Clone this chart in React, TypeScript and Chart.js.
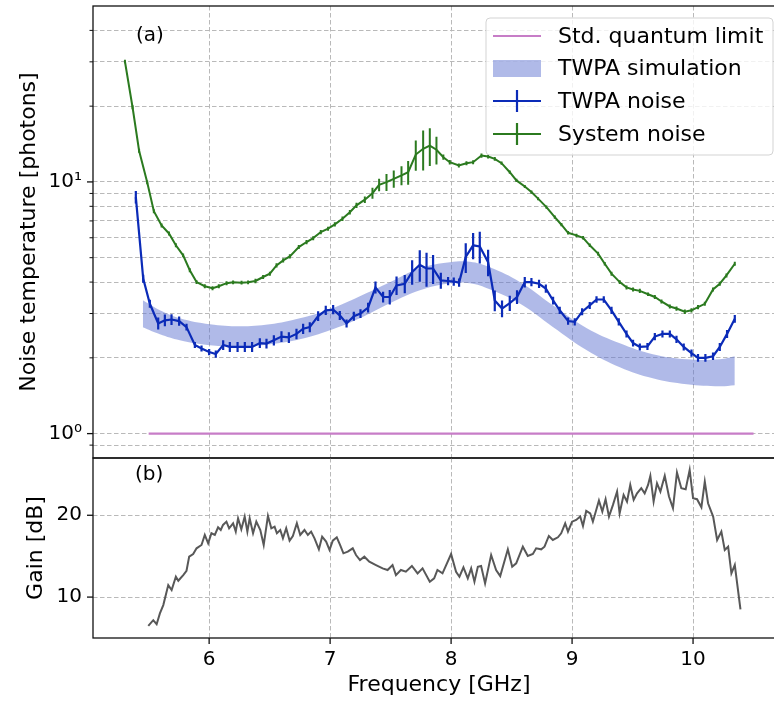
import React, { useEffect, useRef } from 'react';
import { Chart, registerables } from 'chart.js';

Chart.register(...registerables);

const FONT = "'DejaVu Sans', sans-serif";

// ---------- data ----------
const sqlFreq = [5.5, 10.5];
const sqlValue = [1, 1];

const simFreq = [5.452, 5.593, 5.758, 6.006, 6.254, 6.502, 6.75, 6.998, 7.246, 7.494, 7.742, 7.99, 8.155, 8.32, 8.568, 8.841, 9.122, 9.395, 9.667, 9.948, 10.221, 10.345];
const simUpper = [3.385, 3.09, 2.872, 2.718, 2.669, 2.718, 2.872, 3.118, 3.512, 3.991, 4.536, 4.793, 4.815, 4.578, 4.003, 3.234, 2.62, 2.284, 2.066, 1.973, 1.973, 2.028];
const simLower = [2.644, 2.48, 2.348, 2.243, 2.222, 2.263, 2.37, 2.573, 2.872, 3.294, 3.71, 3.955, 3.955, 3.744, 3.285, 2.652, 2.143, 1.834, 1.658, 1.57, 1.541, 1.555];

const twpaFreq = [5.394, 5.455, 5.51, 5.579, 5.634, 5.689, 5.752, 5.813, 5.882, 5.937, 6.0, 6.055, 6.116, 6.171, 6.235, 6.295, 6.355, 6.419, 6.474, 6.535, 6.598, 6.659, 6.722, 6.777, 6.832, 6.901, 6.964, 7.025, 7.08, 7.136, 7.196, 7.251, 7.314, 7.375, 7.438, 7.493, 7.549, 7.617, 7.678, 7.741, 7.797, 7.851, 7.915, 7.975, 8.022, 8.066, 8.121, 8.182, 8.237, 8.306, 8.361, 8.421, 8.485, 8.545, 8.609, 8.664, 8.727, 8.783, 8.843, 8.898, 8.967, 9.022, 9.083, 9.146, 9.202, 9.262, 9.326, 9.386, 9.45, 9.504, 9.56, 9.623, 9.684, 9.747, 9.808, 9.863, 9.923, 9.987, 10.041, 10.102, 10.165, 10.221, 10.281, 10.345];
const twpaNoise = [8.7, 4.13, 3.28, 2.74, 2.82, 2.84, 2.8, 2.65, 2.25, 2.18, 2.11, 2.07, 2.25, 2.21, 2.21, 2.21, 2.21, 2.29, 2.28, 2.35, 2.43, 2.41, 2.49, 2.61, 2.65, 2.93, 3.09, 3.11, 2.95, 2.74, 2.93, 3.0, 3.17, 3.81, 3.49, 3.49, 3.88, 3.94, 4.39, 4.68, 4.53, 4.53, 4.06, 4.04, 4.02, 3.98, 5.03, 5.6, 5.54, 4.8, 3.38, 3.14, 3.3, 3.49, 4.0, 4.0, 3.94, 3.77, 3.38, 3.09, 2.8, 2.78, 3.05, 3.23, 3.41, 3.41, 3.09, 2.78, 2.49, 2.29, 2.21, 2.22, 2.43, 2.49, 2.49, 2.37, 2.21, 2.09, 2.0, 2.0, 2.03, 2.21, 2.49, 2.86];
const twpaErr = [0.5, 0.15, 0.12, 0.15, 0.15, 0.14, 0.12, 0.08, 0.06, 0.06, 0.06, 0.07, 0.1, 0.1, 0.1, 0.1, 0.1, 0.1, 0.1, 0.11, 0.12, 0.12, 0.12, 0.12, 0.12, 0.13, 0.13, 0.13, 0.12, 0.1, 0.12, 0.12, 0.14, 0.21, 0.17, 0.23, 0.33, 0.33, 0.49, 0.67, 0.7, 0.6, 0.3, 0.15, 0.15, 0.15, 0.68, 0.67, 0.8, 0.58, 0.32, 0.24, 0.23, 0.22, 0.19, 0.15, 0.15, 0.14, 0.12, 0.1, 0.09, 0.09, 0.1, 0.1, 0.1, 0.1, 0.1, 0.09, 0.08, 0.07, 0.07, 0.07, 0.08, 0.08, 0.08, 0.08, 0.07, 0.07, 0.07, 0.07, 0.07, 0.08, 0.09, 0.1];

const sysFreq = [5.304, 5.367, 5.421, 5.488, 5.543, 5.607, 5.668, 5.725, 5.785, 5.84, 5.896, 5.964, 6.028, 6.08, 6.144, 6.198, 6.268, 6.322, 6.383, 6.446, 6.502, 6.557, 6.612, 6.667, 6.741, 6.805, 6.86, 6.923, 6.983, 7.039, 7.102, 7.163, 7.218, 7.287, 7.35, 7.405, 7.466, 7.526, 7.59, 7.645, 7.708, 7.769, 7.824, 7.879, 7.936, 7.989, 8.064, 8.127, 8.182, 8.251, 8.306, 8.361, 8.417, 8.485, 8.54, 8.609, 8.664, 8.719, 8.788, 8.857, 8.912, 8.967, 9.036, 9.091, 9.146, 9.215, 9.27, 9.326, 9.394, 9.45, 9.504, 9.56, 9.628, 9.684, 9.739, 9.808, 9.863, 9.932, 9.987, 10.041, 10.097, 10.165, 10.221, 10.276, 10.345];
const sysNoise = [30.1, 19.8, 13.3, 9.96, 7.65, 6.71, 6.24, 5.6, 5.11, 4.46, 4.0, 3.85, 3.78, 3.85, 3.96, 3.99, 3.98, 3.99, 4.04, 4.19, 4.32, 4.66, 4.88, 5.06, 5.51, 5.77, 5.98, 6.32, 6.52, 6.78, 7.14, 7.58, 8.07, 8.5, 9.02, 9.74, 9.98, 10.29, 10.61, 10.93, 12.85, 13.54, 13.95, 13.42, 12.54, 11.98, 11.62, 11.87, 11.98, 12.73, 12.61, 12.35, 11.87, 10.93, 10.14, 9.59, 9.11, 8.58, 7.94, 7.25, 6.76, 6.28, 6.13, 6.0, 5.6, 5.19, 4.73, 4.32, 4.0, 3.81, 3.74, 3.69, 3.58, 3.49, 3.35, 3.2, 3.14, 3.05, 3.09, 3.18, 3.28, 3.74, 3.94, 4.25, 4.73];
const sysErr = [0.5, 0.35, 0.25, 0.18, 0.14, 0.12, 0.11, 0.1, 0.09, 0.08, 0.07, 0.07, 0.07, 0.07, 0.07, 0.07, 0.07, 0.07, 0.08, 0.08, 0.08, 0.09, 0.09, 0.1, 0.1, 0.11, 0.11, 0.12, 0.12, 0.13, 0.14, 0.15, 0.2, 0.25, 0.45, 0.55, 0.77, 0.8, 0.92, 1.18, 1.77, 2.45, 2.38, 1.7, 0.3, 0.25, 0.22, 0.22, 0.22, 0.25, 0.22, 0.2, 0.18, 0.16, 0.15, 0.14, 0.13, 0.12, 0.12, 0.11, 0.1, 0.1, 0.1, 0.1, 0.09, 0.09, 0.08, 0.08, 0.07, 0.07, 0.07, 0.07, 0.06, 0.06, 0.06, 0.06, 0.06, 0.06, 0.06, 0.06, 0.06, 0.07, 0.07, 0.08, 0.09];

const gainFreq = [5.497, 5.538, 5.566, 5.593, 5.621, 5.662, 5.69, 5.725, 5.745, 5.786, 5.813, 5.835, 5.868, 5.896, 5.937, 5.964, 5.992, 6.019, 6.047, 6.074, 6.096, 6.115, 6.143, 6.165, 6.198, 6.22, 6.239, 6.266, 6.294, 6.316, 6.335, 6.363, 6.39, 6.423, 6.451, 6.486, 6.514, 6.541, 6.56, 6.588, 6.61, 6.637, 6.665, 6.692, 6.725, 6.753, 6.788, 6.816, 6.843, 6.871, 6.907, 6.934, 6.967, 6.995, 7.022, 7.055, 7.082, 7.11, 7.146, 7.187, 7.214, 7.247, 7.283, 7.324, 7.379, 7.434, 7.475, 7.516, 7.544, 7.585, 7.626, 7.676, 7.723, 7.764, 7.824, 7.86, 7.887, 7.929, 8.0, 8.041, 8.069, 8.102, 8.138, 8.166, 8.193, 8.221, 8.248, 8.281, 8.331, 8.372, 8.406, 8.469, 8.505, 8.538, 8.593, 8.634, 8.676, 8.703, 8.745, 8.772, 8.808, 8.841, 8.883, 8.91, 8.943, 8.966, 9.0, 9.034, 9.067, 9.09, 9.117, 9.15, 9.172, 9.222, 9.25, 9.277, 9.305, 9.338, 9.372, 9.393, 9.426, 9.454, 9.481, 9.509, 9.537, 9.572, 9.6, 9.628, 9.647, 9.674, 9.702, 9.73, 9.766, 9.801, 9.834, 9.867, 9.903, 9.939, 9.972, 10.0, 10.033, 10.069, 10.097, 10.124, 10.166, 10.199, 10.234, 10.262, 10.29, 10.317, 10.345, 10.392];
const gainDb = [6.49, 7.18, 6.69, 8.0, 9.02, 11.47, 10.86, 12.49, 12.0, 12.69, 13.22, 14.94, 15.27, 15.96, 16.37, 17.59, 16.57, 17.8, 17.59, 18.53, 18.2, 18.82, 19.22, 18.41, 19.02, 18.0, 19.63, 18.29, 19.84, 18.0, 19.63, 17.8, 19.22, 18.2, 16.37, 19.92, 18.41, 18.61, 17.8, 18.2, 17.18, 18.41, 16.9, 17.47, 19.02, 17.59, 18.2, 17.59, 18.0, 17.18, 15.84, 17.39, 16.78, 15.76, 16.9, 17.31, 16.37, 15.35, 15.55, 15.96, 15.14, 14.53, 14.94, 14.33, 13.92, 13.51, 13.31, 13.92, 12.69, 13.31, 13.1, 13.8, 12.9, 13.51, 11.88, 12.29, 13.31, 12.9, 15.27, 13.1, 12.49, 13.63, 12.29, 13.51, 11.88, 13.71, 13.8, 11.67, 15.14, 13.31, 12.57, 15.84, 13.71, 14.12, 16.16, 15.02, 15.27, 15.96, 15.84, 16.16, 17.47, 16.98, 17.31, 17.8, 19.02, 18.0, 19.22, 19.43, 19.84, 18.69, 20.53, 20.24, 19.22, 21.8, 20.45, 21.96, 19.84, 21.27, 22.9, 20.24, 22.49, 21.67, 23.71, 21.88, 22.69, 23.31, 22.69, 23.71, 24.82, 21.67, 23.92, 22.9, 24.82, 22.29, 20.86, 25.22, 23.31, 23.18, 25.55, 22.08, 21.96, 20.98, 24.12, 21.47, 19.84, 16.98, 18.0, 15.76, 16.16, 12.9, 13.92, 8.49];

const X_MIN = 5.04;
const X_MAX = 10.76;
const X_TICKS = [6, 7, 8, 9, 10];
const NOISE_MIN = 0.8;
const NOISE_MAX = 50;
const NOISE_TICKS = [0.9, 1, 2, 3, 4, 5, 6, 7, 8, 9, 10, 20, 30, 40];
const NOISE_MAJOR = [1, 10];
const NOISE_LABELS: Record<string, string> = { '1': '10⁰', '10': '10¹' };
const GAIN_MIN = 5;
const GAIN_MAX = 27;
const GAIN_TICKS = [10, 20];

const LEGEND_LABELS = ['Std. quantum limit', 'TWPA simulation', 'TWPA noise', 'System noise'];

// ---------- styles ----------
const C_SQL = '#c77dc7';
const C_SIM = 'rgba(98,118,210,0.5)';
const C_TWPA = '#0b2bb8';
const C_SYS = '#2b7a1f';
const C_GAIN = '#585858';
const GRID = '#b9b9b9';
const DASH = [4.5, 2.5];

const pts = (xs: number[], ys: number[]) => xs.map((x, i) => ({ x, y: ys[i] }));
const errSegs = (xs: number[], ys: number[], es: number[]) => {
  const out: { x: number; y: number | null }[] = [];
  xs.forEach((x, i) => {
    out.push({ x, y: ys[i] - es[i] }, { x, y: ys[i] + es[i] }, { x, y: null });
  });
  return out;
};

const tickFont = { family: FONT, size: 20 };
const titleFont = { family: FONT, size: 22 };

function frame(ctx: CanvasRenderingContext2D, a: any) {
  ctx.save();
  ctx.strokeStyle = '#111';
  ctx.lineWidth = 1.3;
  ctx.strokeRect(a.left, a.top, a.right - a.left, a.bottom - a.top);
  ctx.restore();
}

function leftTicks(ctx: CanvasRenderingContext2D, chart: any, ticks: number[], major: number[]) {
  const a = chart.chartArea;
  const y = chart.scales.y;
  ctx.save();
  ctx.strokeStyle = '#111';
  for (const v of ticks) {
    const py = y.getPixelForValue(v);
    const isMajor = major.includes(v);
    ctx.lineWidth = isMajor ? 1.3 : 1;
    const len = isMajor ? 6 : 3.5;
    ctx.beginPath();
    ctx.moveTo(a.left - len, py);
    ctx.lineTo(a.left, py);
    ctx.stroke();
  }
  ctx.restore();
}

const topPlugin = {
  id: 'topDecor',
  afterDraw(chart: any) {
    const ctx: CanvasRenderingContext2D = chart.ctx;
    const a = chart.chartArea;
    frame(ctx, a);
    leftTicks(ctx, chart, NOISE_TICKS, NOISE_MAJOR);
    ctx.save();
    ctx.fillStyle = '#000';
    ctx.font = `20px ${FONT}`;
    ctx.textBaseline = 'middle';
    ctx.textAlign = 'left';
    ctx.fillText('(a)', 136, 36);
    // legend
    const bx = 486, by = 18, bw = 287, bh = 137, r = 4;
    ctx.beginPath();
    ctx.moveTo(bx + r, by);
    ctx.lineTo(bx + bw - r, by);
    ctx.arcTo(bx + bw, by, bx + bw, by + r, r);
    ctx.lineTo(bx + bw, by + bh - r);
    ctx.arcTo(bx + bw, by + bh, bx + bw - r, by + bh, r);
    ctx.lineTo(bx + r, by + bh);
    ctx.arcTo(bx, by + bh, bx, by + bh - r, r);
    ctx.lineTo(bx, by + r);
    ctx.arcTo(bx, by, bx + r, by, r);
    ctx.closePath();
    ctx.fillStyle = 'rgba(255,255,255,0.8)';
    ctx.fill();
    ctx.strokeStyle = '#d3d3d3';
    ctx.lineWidth = 1;
    ctx.stroke();
    const rows = [36, 68.5, 101, 134];
    const hx0 = 493, hx1 = 541, hxm = 517;
    ctx.strokeStyle = C_SQL; ctx.lineWidth = 2;
    ctx.beginPath(); ctx.moveTo(hx0, rows[0]); ctx.lineTo(hx1, rows[0]); ctx.stroke();
    ctx.fillStyle = C_SIM;
    ctx.fillRect(hx0, rows[1] - 8.5, hx1 - hx0, 17);
    ctx.strokeStyle = C_TWPA; ctx.lineWidth = 2.2;
    ctx.beginPath(); ctx.moveTo(hx0, rows[2]); ctx.lineTo(hx1, rows[2]); ctx.stroke();
    ctx.beginPath(); ctx.moveTo(hxm, rows[2] - 11); ctx.lineTo(hxm, rows[2] + 11); ctx.stroke();
    ctx.strokeStyle = C_SYS;
    ctx.beginPath(); ctx.moveTo(hx0, rows[3]); ctx.lineTo(hx1, rows[3]); ctx.stroke();
    ctx.beginPath(); ctx.moveTo(hxm, rows[3] - 11); ctx.lineTo(hxm, rows[3] + 11); ctx.stroke();
    ctx.fillStyle = '#000';
    ctx.font = `22px ${FONT}`;
    LEGEND_LABELS.forEach((t, i) => ctx.fillText(t, 558, rows[i] + 1));
    ctx.restore();
  },
};

const bottomPlugin = {
  id: 'bottomDecor',
  afterDraw(chart: any) {
    const ctx: CanvasRenderingContext2D = chart.ctx;
    const a = chart.chartArea;
    frame(ctx, a);
    leftTicks(ctx, chart, GAIN_TICKS, GAIN_TICKS);
    const x = chart.scales.x;
    ctx.save();
    ctx.strokeStyle = '#111';
    ctx.lineWidth = 1.3;
    for (const v of X_TICKS) {
      const px = x.getPixelForValue(v);
      ctx.beginPath();
      ctx.moveTo(px, a.bottom);
      ctx.lineTo(px, a.bottom + 6);
      ctx.stroke();
    }
    ctx.fillStyle = '#000';
    ctx.font = `20px ${FONT}`;
    ctx.textBaseline = 'middle';
    ctx.fillText('(b)', 135, a.top + 17);
    ctx.restore();
  },
};

const noPad = (s: any) => {
  s.paddingTop = 0;
  s.paddingBottom = 0;
  s.paddingLeft = 0;
  s.paddingRight = 0;
};

function xAxis(showLabels: boolean) {
  return {
    type: 'linear' as const,
    min: X_MIN,
    max: X_MAX,
    bounds: 'data' as const,
    afterBuildTicks: (s: any) => {
      s.ticks = X_TICKS.map((v) => ({ value: v }));
    },
    afterFit: (s: any) => {
      s.height = showLabels ? 66 : 0;
      noPad(s);
    },
    ticks: {
      display: showLabels,
      autoSkip: false,
      maxRotation: 0,
      font: tickFont,
      color: '#000',
      padding: 10,
      callback: (v: any) => String(v),
    },
    grid: { color: GRID, lineWidth: 1, drawTicks: false },
    border: { display: false, dash: DASH },
    title: {
      display: showLabels,
      text: 'Frequency [GHz]',
      font: titleFont,
      color: '#000',
      padding: { top: 0, bottom: 6 },
    },
  };
}

export default function App() {
  const topRef = useRef<HTMLCanvasElement>(null);
  const botRef = useRef<HTMLCanvasElement>(null);

  useEffect(() => {
    const top = new Chart(topRef.current as HTMLCanvasElement, {
      type: 'line',
      data: {
        datasets: [
          {
            label: 'simLower',
            data: pts(simFreq, simLower),
            borderWidth: 0,
            borderColor: 'rgba(0,0,0,0)',
            pointRadius: 0,
            tension: 0.4,
            fill: false,
            order: 10,
          },
          {
            label: 'TWPA simulation',
            data: pts(simFreq, simUpper),
            borderWidth: 0,
            borderColor: 'rgba(0,0,0,0)',
            backgroundColor: C_SIM,
            pointRadius: 0,
            tension: 0.4,
            fill: '-1',
            order: 9,
          },
          {
            label: 'Std. quantum limit',
            data: pts(sqlFreq, sqlValue),
            borderColor: C_SQL,
            borderWidth: 2.2,
            pointRadius: 0,
            order: 8,
          },
          {
            label: 'TWPA noise',
            data: pts(twpaFreq, twpaNoise),
            borderColor: C_TWPA,
            borderWidth: 2.2,
            pointRadius: 0,
            tension: 0,
            order: 4,
          },
          {
            label: 'TWPA noise err',
            data: errSegs(twpaFreq, twpaNoise, twpaErr),
            borderColor: C_TWPA,
            borderWidth: 2.2,
            pointRadius: 0,
            spanGaps: false,
            order: 3,
          },
          {
            label: 'System noise',
            data: pts(sysFreq, sysNoise),
            borderColor: C_SYS,
            borderWidth: 2,
            pointRadius: 0,
            tension: 0,
            order: 2,
          },
          {
            label: 'System noise err',
            data: errSegs(sysFreq, sysNoise, sysErr),
            borderColor: C_SYS,
            borderWidth: 2,
            pointRadius: 0,
            spanGaps: false,
            order: 1,
          },
        ] as any,
      },
      options: {
        animation: false,
        responsive: false,
        devicePixelRatio: 1,
        layout: { padding: { left: 0, right: 5, top: 6, bottom: 4 } },
        plugins: { legend: { display: false }, tooltip: { enabled: false } },
        scales: {
          x: xAxis(false) as any,
          y: {
            type: 'logarithmic',
            min: NOISE_MIN,
            max: NOISE_MAX,
            bounds: 'data',
            afterBuildTicks: (s: any) => {
              s.ticks = NOISE_TICKS.map((v) => ({ value: v }));
            },
            afterFit: (s: any) => {
              s.width = 93;
              noPad(s);
            },
            ticks: {
              autoSkip: false,
              font: tickFont,
              color: '#000',
              padding: 11,
              callback: (v: any) => NOISE_LABELS[String(v)] ?? '',
            },
            grid: { color: GRID, lineWidth: 1, drawTicks: false },
            border: { display: false, dash: DASH },
            title: {
              display: true,
              text: 'Noise temperature [photons]',
              font: titleFont,
              color: '#000',
              padding: { top: 16, bottom: 0 },
            },
          } as any,
        },
      },
      plugins: [topPlugin],
    });

    const bot = new Chart(botRef.current as HTMLCanvasElement, {
      type: 'line',
      data: {
        datasets: [
          {
            label: 'Gain',
            data: pts(gainFreq, gainDb),
            borderColor: C_GAIN,
            borderWidth: 2,
            pointRadius: 0,
            tension: 0,
          },
        ],
      },
      options: {
        animation: false,
        responsive: false,
        devicePixelRatio: 1,
        layout: { padding: { left: 0, right: 5, top: 2, bottom: 0 } },
        plugins: { legend: { display: false }, tooltip: { enabled: false } },
        scales: {
          x: xAxis(true) as any,
          y: {
            type: 'linear',
            min: GAIN_MIN,
            max: GAIN_MAX,
            bounds: 'data',
            afterBuildTicks: (s: any) => {
              s.ticks = GAIN_TICKS.map((v) => ({ value: v }));
            },
            afterFit: (s: any) => {
              s.width = 93;
              noPad(s);
            },
            ticks: {
              autoSkip: false,
              font: tickFont,
              color: '#000',
              padding: 11,
              callback: (v: any) => String(v),
            },
            grid: { color: GRID, lineWidth: 1, drawTicks: false },
            border: { display: false, dash: DASH },
            title: {
              display: true,
              text: 'Gain [dB]',
              font: titleFont,
              color: '#000',
              padding: { top: 23, bottom: 0 },
            },
          } as any,
        },
      },
      plugins: [bottomPlugin],
    });

    return () => {
      top.destroy();
      bot.destroy();
    };
  }, []);

  return (
    <div
      style={{
        position: 'absolute',
        left: 0,
        top: 0,
        width: 774,
        height: 704,
        overflow: 'hidden',
        background: '#fff',
      }}
    >
      <canvas ref={topRef} width={790} height={462} style={{ position: 'absolute', left: 0, top: 0 }} />
      <canvas ref={botRef} width={790} height={248} style={{ position: 'absolute', left: 0, top: 456 }} />
    </div>
  );
}
